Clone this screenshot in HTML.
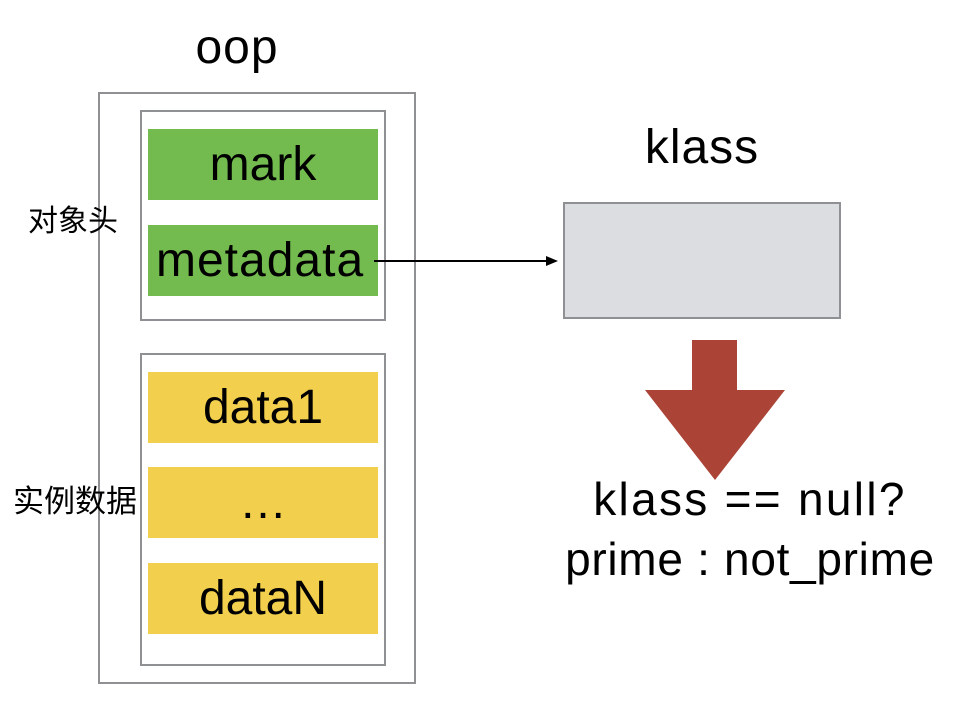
<!DOCTYPE html>
<html><head><meta charset="utf-8"><style>
body{margin:0;width:966px;height:708px;background:#fff;position:relative;overflow:hidden;font-family:"Liberation Sans","Noto Sans CJK SC",sans-serif;}
.a{position:absolute;box-sizing:border-box;}
.t{position:absolute;white-space:nowrap;color:#000;}
.g{background:#73bb4e;}
.y{background:#f2cf4c;}
.box{font-size:48px;display:flex;align-items:center;justify-content:center;color:#000;}
</style></head><body>
<div class="a" style="left:98px;top:92px;width:318px;height:592px;border:2px solid #8e9094"></div>
<div class="a" style="left:140px;top:110px;width:246px;height:211px;border:2px solid #8e9094"></div>
<div class="a" style="left:140px;top:353px;width:246px;height:313px;border:2px solid #8e9094"></div>
<div class="a g box" style="left:148px;top:129px;width:230px;height:71px">mark</div>
<div class="a g box" style="left:148px;top:225px;width:230px;height:71px;justify-content:flex-start;padding-left:8px;letter-spacing:1px">metadata</div>
<div class="a y box" style="left:148px;top:372px;width:230px;height:71px">data1</div>
<div class="a y box" style="left:148px;top:467px;width:230px;height:71px">…</div>
<div class="a y box" style="left:148px;top:563px;width:230px;height:71px">dataN</div>
<div class="a" style="left:563px;top:202px;width:278px;height:117px;border:2px solid #8e9094;background:#dcdde0"></div>
<div class="t" style="left:0;width:474px;text-align:center;top:20px;font-size:48px;letter-spacing:1px">oop</div>
<div class="t" style="left:600px;width:204px;text-align:center;top:120px;font-size:48px;letter-spacing:1px">klass</div>
<div class="t" style="left:28px;top:196px;font-size:30px">对象头</div>
<div class="t" style="left:13px;top:476px;font-size:31px">实例数据</div>
<div class="t" style="left:500px;width:500px;text-align:center;top:472px;font-size:46px;letter-spacing:2.3px">klass == null?</div>
<div class="t" style="left:500px;width:500px;text-align:center;top:532px;font-size:46px;letter-spacing:0.7px">prime : not_prime</div>
<svg class="a" style="left:0;top:0" width="966" height="708">
<line x1="374" y1="261" x2="550" y2="261" stroke="#000" stroke-width="2"/>
<polygon points="558,261 546,256 546,266" fill="#000"/>
<polygon points="692,340 737,340 737,390 785,390 715,480 645,390 692,390" fill="#ab4437"/>
</svg>
</body></html>
